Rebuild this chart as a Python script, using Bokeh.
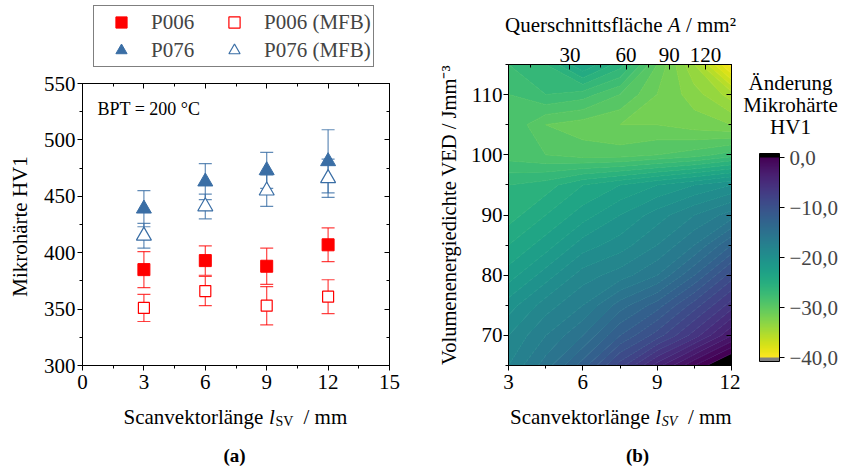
import numpy as np
from bokeh.plotting import figure
from bokeh.models import (ColumnDataSource, Whisker, TeeHead, Legend, LegendItem, Label,
                          LinearAxis, FixedTicker, ColorBar, LinearColorMapper, Range1d)
from bokeh.layouts import row, column
from bokeh.palettes import Viridis256, viridis
from bokeh.embed import file_html
from bokeh.resources import INLINE

FONT = "Liberation Serif"
FS = "21px"

# ---------------- data (a) ----------------
scan_len = [3, 6, 9, 12]
p006 = [385, 393, 388, 407]
p006_err = [16, 13, 16, 15]
p006_mfb = [351, 366, 353, 361]
p006_mfb_err = [12, 13, 17, 15]
p076 = [439, 463, 473, 481]
p076_err = [16, 16, 16, 28]
p076_mfb = [415, 441, 455, 466]
p076_mfb_err = [11, 11, 14, 17]

x_ticks_a = [0, 3, 6, 9, 12, 15]
x_minor_a = [1.5, 4.5, 7.5, 10.5, 13.5]
y_ticks_a = [300, 350, 400, 450, 500, 550]
y_minor_a = [325, 375, 425, 475, 525]

# ---------------- data (b) ----------------
grid_sv = [3, 4.5, 6, 7.5, 9, 10.5, 12]
grid_ved = [65, 70, 75, 80, 85, 90, 95, 100, 105, 110, 115]
dhv_065 = [-18, -15.5, -12.5, -8.5, -4.5, -1, 2]
dhv_070 = [-19, -17, -15, -12, -9.5, -6.5, -3]
dhv_075 = [-20.5, -18.5, -17, -14.5, -12.5, -9.5, -6.5]
dhv_080 = [-22.5, -20.5, -18.5, -17.5, -16, -13, -9.5]
dhv_085 = [-24, -22.5, -20.5, -19.5, -18, -16, -13]
dhv_090 = [-25.5, -24, -22.5, -21, -19.5, -18, -16.5]
dhv_095 = [-26, -25.5, -24, -23, -22, -21, -20]
dhv_100 = [-28.5, -29, -29.5, -29.5, -29, -28.5, -27.5]
dhv_105 = [-28, -30, -30.5, -31, -31, -31.5, -32]
dhv_110 = [-28, -27, -27.5, -29, -31, -32.5, -34.5]
dhv_115 = [-27, -26, -23, -25.5, -30, -34, -39.5]

sv_ticks_b = [3, 6, 9, 12]
sv_minor_b = [4.5, 7.5, 10.5]
ved_ticks_b = [70, 80, 90, 100, 110]
ved_minor_b = [65, 75, 85, 95, 105, 115]
area_ticks = [30, 60, 90, 120]
area_minor = [15, 45, 75, 105]
cbar_ticks = [-40, -30, -20, -10, 0]
cbar_labels = ["\u221240,0", "\u221230,0", "\u221220,0", "\u221210,0", "0,0"]

RED = "#ff0000"
BLUE = "#3a6ea5"


def style_axis(ax, inward=False, standoff=2):
    ax.axis_line_color = "black"
    ax.major_tick_line_color = "black"
    ax.minor_tick_line_color = "black"
    if inward:
        ax.major_tick_in, ax.major_tick_out = 5, 0
        ax.minor_tick_in, ax.minor_tick_out = 3, 0
    else:
        ax.major_tick_in, ax.major_tick_out = 0, 5
        ax.minor_tick_in, ax.minor_tick_out = 0, 3
    ax.major_label_text_font = FONT
    ax.major_label_text_font_size = FS
    ax.major_label_text_color = "black"
    ax.major_label_standoff = standoff


def mirror(p, side, majors, minors):
    # unlabeled mirror ticks (drawn as minor ticks of two label-free axes)
    for pos, ln in ((majors, 5), (minors, 3)):
        ax = LinearAxis(ticker=FixedTicker(ticks=[], minor_ticks=pos))
        ax.axis_line_color = "black"
        ax.minor_tick_line_color = "black"
        ax.minor_tick_in, ax.minor_tick_out = ln, 0
        ax.major_tick_in, ax.major_tick_out = 0, 0
        ax.major_label_standoff = 0
        ax.axis_label = None
        p.add_layout(ax, side)


def blank(w, h, xr, yr, bt=0, bb=0):
    # text panel; ranges are given in page pixels so labels are placed in page coordinates
    f = figure(width=w, height=h, x_range=Range1d(*xr), y_range=Range1d(*yr),
               output_backend="svg", toolbar_location=None, min_border=0,
               min_border_top=bt, min_border_bottom=bb, min_border_left=0, min_border_right=0,
               x_axis_type=None, y_axis_type=None)
    f.outline_line_color = None
    return f


def lab(f, x, y, text, size=FS, style="normal", align="left", baseline="alphabetic", angle=0.0):
    f.add_layout(Label(x=x, y=y, text=text, text_font=FONT, text_font_size=size,
                       text_font_style=style, text_align=align, text_baseline=baseline,
                       angle=angle, text_color="black"))


# ================= figure (a) =================
p1 = figure(width=390, height=330, x_range=Range1d(0, 15), y_range=Range1d(300, 550),
            output_backend="svg", toolbar_location=None,
            min_border_left=38, min_border_right=41, min_border_top=14, min_border_bottom=34)
p1.grid.visible = False
p1.outline_line_color = "black"
p1.outline_line_alpha = 1
p1.xaxis.ticker = FixedTicker(ticks=x_ticks_a, minor_ticks=x_minor_a)
p1.yaxis.ticker = FixedTicker(ticks=y_ticks_a, minor_ticks=y_minor_a)
style_axis(p1.xaxis[0], standoff=4)
style_axis(p1.yaxis[0], standoff=2)
mirror(p1, "above", x_ticks_a, x_minor_a)
mirror(p1, "right", y_ticks_a, y_minor_a)


def add_err(p, x, y, e, color, alpha):
    src = ColumnDataSource(dict(x=x, up=[a + b for a, b in zip(y, e)], lo=[a - b for a, b in zip(y, e)]))
    w = Whisker(base="x", upper="up", lower="lo", source=src, dimension="height",
                line_color=color, line_alpha=alpha, line_width=1.2, level="underlay",
                upper_head=TeeHead(size=13, line_color=color, line_alpha=alpha, line_width=1.2),
                lower_head=TeeHead(size=13, line_color=color, line_alpha=alpha, line_width=1.2))
    p.add_layout(w)


add_err(p1, scan_len, p006, p006_err, RED, 0.75)
add_err(p1, scan_len, p006_mfb, p006_mfb_err, RED, 0.75)
add_err(p1, scan_len, p076, p076_err, BLUE, 0.8)
add_err(p1, scan_len, p076_mfb, p076_mfb_err, BLUE, 0.8)

STY = [
    ("P006", p006, dict(marker="square", size=12, fill_color=RED, line_color=RED)),
    ("P006 (MFB)", p006_mfb, dict(marker="square", size=11, fill_color="white", line_color=RED, line_width=1.2)),
    ("P076", p076, dict(marker="triangle", size=15, fill_color=BLUE, line_color=BLUE)),
    ("P076 (MFB)", p076_mfb, dict(marker="triangle", size=15, fill_color="white", line_color=BLUE, line_width=1.2)),
]
for name, ys, kw in STY:
    p1.scatter(scan_len, ys, **kw)

p1.add_layout(Label(x=15, y=257, x_units="screen", y_units="screen", text="BPT = 200 \u00b0C",
                    text_font=FONT, text_font_size="18px", text_baseline="middle", text_color="black"))

# legend strip above (a)
leg_fig = figure(width=430, height=69, x_range=Range1d(0, 430), y_range=Range1d(0, 1),
                 output_backend="svg", toolbar_location=None, min_border=0,
                 x_axis_type=None, y_axis_type=None)
leg_fig.outline_line_color = None
leg_r = {}
for name, ys, kw in STY:
    leg_r[name] = leg_fig.scatter(scan_len, ys, visible=False, **kw)
legend = Legend(items=[LegendItem(label=n, renderers=[leg_r[n]]) for n in ["P006", "P076", "P006 (MFB)", "P076 (MFB)"]],
                location=(93, 2), orientation="vertical", nrows=2,
                glyph_width=50, glyph_height=28, label_height=28, label_width=58,
                label_standoff=5, spacing=0, padding=2, margin=0,
                label_text_font=FONT, label_text_font_size=FS,
                border_line_color="black", border_line_width=1,
                background_fill_color="white", background_fill_alpha=1,
                inactive_fill_alpha=0)
leg_fig.add_layout(legend)

# y label of (a): same vertical borders as p1 (page rows 83..365)
ylab_a = blank(40, 330, (0, 40), (365, 83), bt=14, bb=34)
lab(ylab_a, 19, 226, "Mikroh\u00e4rte HV1", align="center", baseline="middle", angle=np.pi / 2)

# x label strip of (a): page rows 399..467
xlab_a = blank(430, 68, (0, 430), (467, 399))
lab(xlab_a, 123, 416, "Scanvektorl\u00e4nge")
lab(xlab_a, 268.5, 416, "l", style="italic")
lab(xlab_a, 275, 421, "SV", size="14px")
lab(xlab_a, 303, 416, "/ mm")
lab(xlab_a, 234, 455, "(a)", size="19px", style="bold", align="center", baseline="middle")

left_block = column(leg_fig, row(ylab_a, p1), xlab_a)

# ================= figure (b) =================
p2 = figure(width=310, height=363, x_range=Range1d(3, 12), y_range=Range1d(65, 115),
            output_backend="svg", toolbar_location=None,
            min_border_left=78, min_border_right=9, min_border_top=28, min_border_bottom=34)
p2.grid.visible = False
p2.outline_line_color = "black"
p2.outline_line_alpha = 1

z = np.array([dhv_065, dhv_070, dhv_075, dhv_080, dhv_085, dhv_090,
              dhv_095, dhv_100, dhv_105, dhv_110, dhv_115])
levels = [-50] + list(range(-40, 1)) + [10]
fills = ["#808080"] + list(viridis(40))[::-1] + ["#000000"]
lines = [fills[0]] + fills[:-1]
p2.contour(grid_sv, grid_ved, z, levels, fill_color=fills, line_color=lines, line_width=1)

p2.xaxis.ticker = FixedTicker(ticks=sv_ticks_b, minor_ticks=sv_minor_b)
p2.yaxis.ticker = FixedTicker(ticks=ved_ticks_b, minor_ticks=ved_minor_b)
style_axis(p2.xaxis[0], standoff=4)
style_axis(p2.yaxis[0], standoff=1)
p2.yaxis.axis_label = "Volumenenergiedichte VED / Jmm\u207b\u00b3"
p2.yaxis.axis_label_text_font = FONT
p2.yaxis.axis_label_text_font_size = "20.5px"
p2.yaxis.axis_label_text_font_style = "normal"
p2.yaxis.axis_label_text_color = "black"
p2.yaxis.axis_label_standoff = 8

area_pos = [float(np.sqrt(a)) for a in area_ticks]
area_minor_pos = [float(np.sqrt(a)) for a in area_minor]
ax_top2 = LinearAxis(ticker=FixedTicker(ticks=area_pos, minor_ticks=area_minor_pos),
                     major_label_overrides={pos: str(a) for pos, a in zip(area_pos, area_ticks)})
style_axis(ax_top2, inward=True, standoff=3)
p2.add_layout(ax_top2, "above")
mirror(p2, "right", ved_ticks_b, ved_minor_b)

# top title strip of (b): page x 430..845, rows 0..36
top_b = blank(415, 36, (430, 845), (36, 0))
lab(top_b, 504.6, 24, "Querschnittsfl\u00e4che")
lab(top_b, 667.3, 24, "A", style="italic")
lab(top_b, 685.4, 24, "/ mm\u00b2")

# colour bar panel: page x 740..845, same vertical borders as p2 (rows 64..365)
cbf = blank(105, 363, (740, 845), (365, 64), bt=28, bb=34)
pal = ["#808080"] * 5 + list(Viridis256)[::-1] + ["#000000"] * 5
mapper = LinearColorMapper(palette=pal, low=-40.8, high=0.8)
cb = ColorBar(color_mapper=mapper, location=(19, 4), width=20, height=208,
              padding=0, margin=0, ticker=FixedTicker(ticks=cbar_ticks),
              major_label_overrides={t: s for t, s in zip(cbar_ticks, cbar_labels)},
              major_tick_out=5, major_tick_in=0, major_tick_line_color="black",
              minor_tick_line_color=None, bar_line_color="black", bar_line_width=1,
              major_label_text_font=FONT, major_label_text_font_size=FS,
              label_standoff=5, background_fill_alpha=0, border_line_color=None)
cbf.add_layout(cb)
lab(cbf, 790, 82, "\u00c4nderung", align="center")
lab(cbf, 790, 104, "Mikroh\u00e4rte", align="center")
lab(cbf, 790, 126.5, "HV1", align="center")

# x label strip of (b): page x 430..845, rows 399..467
xlab_b = blank(415, 68, (430, 845), (467, 399))
lab(xlab_b, 509.5, 416, "Scanvektorl\u00e4nge")
lab(xlab_b, 654.8, 416, "l", style="italic")
lab(xlab_b, 661.3, 421, "SV", size="14px", style="italic")
lab(xlab_b, 687.4, 416, "/ mm")
lab(xlab_b, 637, 455, "(b)", size="19px", style="bold", align="center", baseline="middle")

right_block = column(top_b, row(p2, cbf), xlab_b)

layout = row(left_block, right_block)
open("out.html", "w").write(file_html(layout, INLINE))
